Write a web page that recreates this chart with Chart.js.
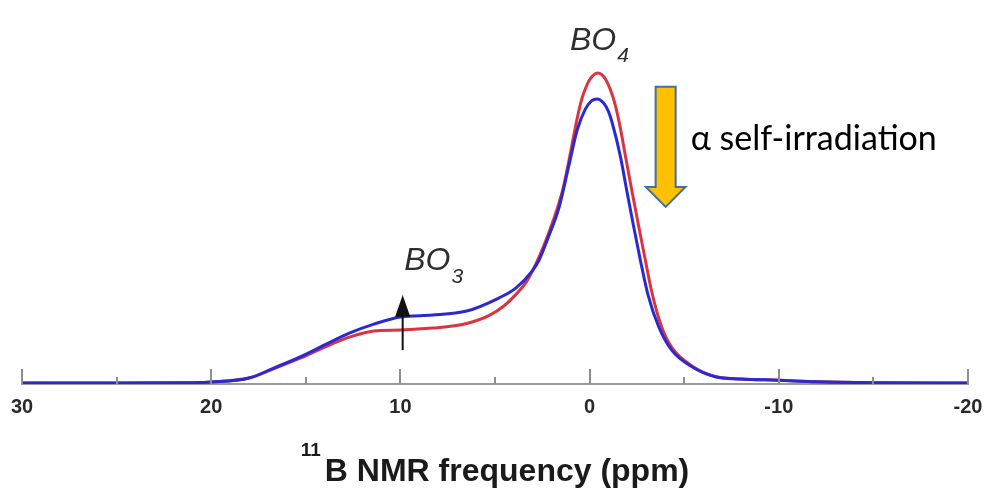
<!DOCTYPE html>
<html>
<head>
<meta charset="utf-8">
<script src="https://cdn.jsdelivr.net/npm/chart.js@4"></script>
<style>
  html, body { margin: 0; padding: 0; background: #fff; }
  #wrap { width: 988px; height: 489px; }
</style>
</head>
<body>
<div id="wrap"><canvas id="nmr" width="988" height="489"></canvas></div>
<script>
// 11B MAS NMR, before (red) and after (blue) alpha self-irradiation
const ppmPristine = [30, 25, 21, 20, 18, 16.7, 15.3, 14, 12.7, 11.4, 10, 8.3, 6.5, 5.3, 4.5, 3.9, 3.3, 2.68, 2.15, 1.62, 1.41, 1.1, 0.83, 0.5, 0.31, 0, -0.43, -0.85, -1.3, -1.6, -1.9, -2.25, -2.6, -2.95, -3.28, -3.8, -4.34, -5.39, -6.64, -8, -10, -12, -15, -20];
const pristine    = [0, 0, 0.1, 0.3, 1.6, 4.6, 8.0, 11.6, 14.8, 16.8, 17.1, 17.7, 19.2, 21.8, 25, 28.5, 33, 40.5, 48.5, 58, 62.5, 71.5, 80, 89.6, 93.5, 97.8, 100, 97.9, 90.9, 83, 73, 61.5, 50.4, 39.5, 29.5, 18.2, 11.5, 5.6, 2.1, 1.3, 0.9, 0.4, 0.1, 0];

const ppmIrradiated = [30, 25, 21, 20, 18, 16.7, 15.3, 14, 12.7, 11.4, 10, 8.3, 6.5, 4.8, 3.9, 3.05, 2.68, 2.15, 1.62, 1.1, 0.66, 0.22, -0.1, -0.4, -0.75, -1.0, -1.19, -1.63, -1.98, -2.33, -2.68, -3.08, -3.65, -4.34, -5.39, -6.64, -8, -10, -12, -15, -20];
const irradiated    = [0, 0, 0.1, 0.3, 1.6, 4.8, 8.4, 12.3, 16.1, 19.0, 21.3, 21.9, 23.2, 27.4, 30.6, 36, 39.5, 47.5, 56.5, 70, 81.5, 88.4, 91, 91.6, 90.2, 87.5, 84, 73, 61.5, 50.4, 39.7, 28.6, 18.2, 10.6, 5.3, 2.0, 1.3, 0.9, 0.4, 0.1, 0];

const xMin = -20, xMax = 30;
const majorStep = 10, minorStep = 5;
const axisTitle = 'B NMR frequency (ppm)';
const axisTitleSup = '11';

const toPoints = (xs, ys) => xs.map((x, i) => ({ x, y: ys[i] }));

const decorations = {
    id: 'decorations',
    afterDatasetsDraw(chart) {
        const { ctx, chartArea } = chart;
        const xs = chart.scales.x, ys = chart.scales.y;
        const px = v => xs.getPixelForValue(v);
        const py = v => ys.getPixelForValue(v);
        ctx.save();

        // ticks point up into the plot
        ctx.strokeStyle = '#8e8e8e';
        ctx.lineWidth = 2;
        for (let v = xMin; v <= xMax; v += minorStep) {
            const len = v % majorStep === 0 ? 15 : 7;
            const x = Math.round(px(v));
            ctx.beginPath();
            ctx.moveTo(x, chartArea.bottom);
            ctx.lineTo(x, chartArea.bottom - len);
            ctx.stroke();
        }

        // axis title with superscript
        const mainFont = 'bold 32px "Liberation Sans", Arial, sans-serif';
        const supFont = 'bold 19px "Liberation Sans", Arial, sans-serif';
        ctx.fillStyle = '#1a1a1a';
        ctx.textBaseline = 'alphabetic';
        ctx.textAlign = 'left';
        ctx.font = mainFont;
        const wMain = ctx.measureText(axisTitle).width;
        ctx.font = supFont;
        const wSup = ctx.measureText(axisTitleSup).width + 4;
        const cx = (chartArea.left + chartArea.right) / 2;
        const x0 = cx - (wMain + wSup) / 2;
        ctx.fillText(axisTitleSup, x0, 456);
        ctx.font = mainFont;
        ctx.fillText(axisTitle, x0 + wSup, 481);

        // peak labels
        const labelFont = 'italic 32px "Liberation Sans", Arial, sans-serif';
        const subFont = 'italic 21px "Liberation Sans", Arial, sans-serif';
        const peakLabel = (ppm, val, sub, subVal) => {
            ctx.font = labelFont;
            const x = px(ppm);
            ctx.fillText('BO', x, py(val));
            const w = ctx.measureText('BO').width;
            ctx.font = subFont;
            ctx.fillText(sub, x + w + 1, py(subVal));
        };
        ctx.fillStyle = '#2e2e2e';
        peakLabel(1.04, 107.4, '4', 103.5);
        peakLabel(9.8, 36.5, '3', 32.3);

        // BO3 growth arrow
        const ax = px(9.88);
        ctx.strokeStyle = '#111';
        ctx.fillStyle = '#111';
        ctx.lineWidth = 2;
        ctx.beginPath();
        ctx.moveTo(ax, py(10.6));
        ctx.lineTo(ax, py(22));
        ctx.stroke();
        ctx.beginPath();
        ctx.moveTo(ax, py(28.4));
        ctx.lineTo(px(10.28), py(21.4));
        ctx.lineTo(px(9.48), py(21.4));
        ctx.closePath();
        ctx.fill();

        // BO4 decrease arrow
        ctx.fillStyle = '#ffc000';
        ctx.strokeStyle = '#41719c';
        ctx.lineWidth = 2;
        ctx.beginPath();
        ctx.moveTo(px(-3.49), py(95.5));
        ctx.lineTo(px(-4.55), py(95.5));
        ctx.lineTo(px(-4.55), py(63.2));
        ctx.lineTo(px(-5.07), py(63.2));
        ctx.lineTo(px(-4.02), py(56.8));
        ctx.lineTo(px(-2.97), py(63.2));
        ctx.lineTo(px(-3.49), py(63.2));
        ctx.closePath();
        ctx.fill();
        ctx.stroke();

        ctx.fillStyle = '#000';
        ctx.font = '34px Lato, "Open Sans", sans-serif';
        ctx.fillText('\u03b1 self-irradiation', px(-5.34), py(75.2));

        ctx.restore();
    }
};

new Chart(document.getElementById('nmr').getContext('2d'), {
    type: 'line',
    data: {
        datasets: [
            {
                label: 'pristine', data: toPoints(ppmPristine, pristine),
                borderColor: '#dc3340', borderWidth: 3, pointRadius: 0,
                cubicInterpolationMode: 'monotone', order: 2
            },
            {
                label: 'irradiated', data: toPoints(ppmIrradiated, irradiated),
                borderColor: '#2a2ad2', borderWidth: 3, pointRadius: 0,
                cubicInterpolationMode: 'monotone', order: 1
            }
        ]
    },
    plugins: [decorations],
    options: {
        responsive: false,
        animation: false,
        devicePixelRatio: 1,
        layout: { padding: { left: 22, right: 20, top: 0, bottom: 70 } },
        plugins: { legend: { display: false }, tooltip: { enabled: false } },
        scales: {
            x: {
                type: 'linear', min: xMin, max: xMax, reverse: true,
                grid: { display: false, drawTicks: false },
                border: { display: true, color: '#9a9a9a', width: 2 },
                ticks: {
                    stepSize: majorStep, maxRotation: 0, autoSkip: false, padding: 11,
                    color: '#2a2a2a',
                    font: { family: '"Liberation Sans", Arial, sans-serif', size: 20, weight: 'bold' }
                },
                // end labels may hang past the plot, as in the original figure
                afterFit(scale) {
                    scale.paddingLeft = 0;
                    scale.paddingRight = 0;
                    scale.height = 35;
                }
            },
            y: { display: false, min: -0.32, max: 123.5 }
        }
    }
});
</script>
</body>
</html>
